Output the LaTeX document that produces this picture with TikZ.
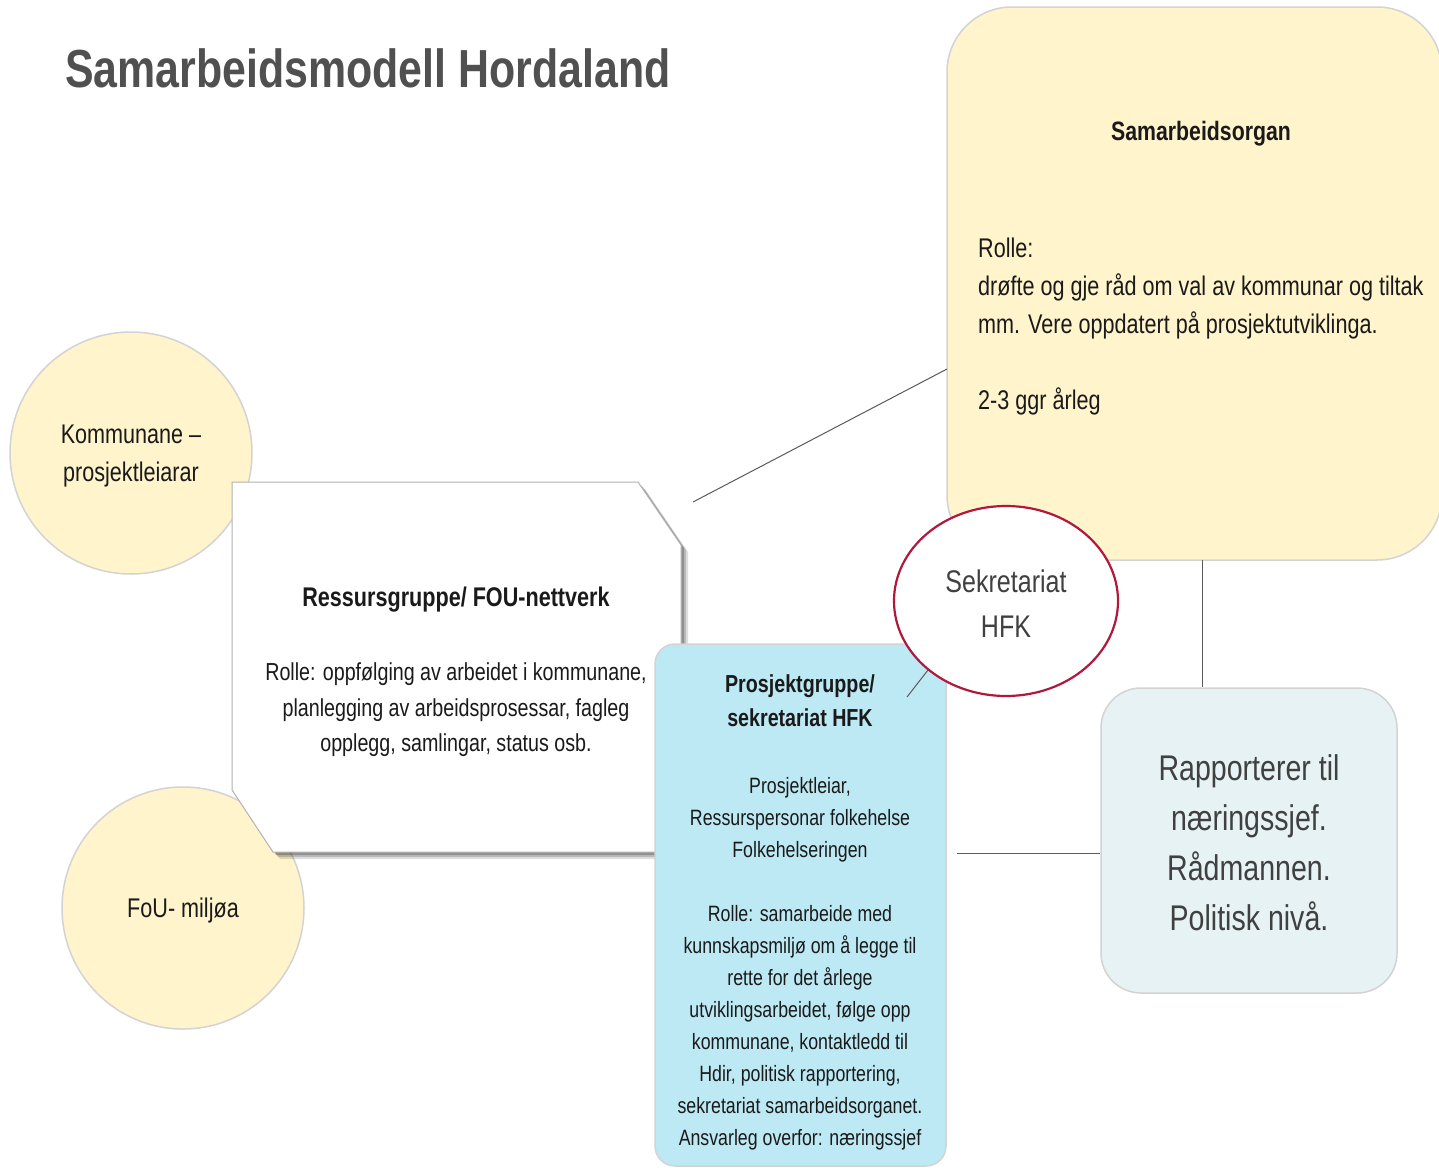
\documentclass[tikz,border=0pt]{standalone}
\usepackage{fontspec}
\setmainfont{Liberation Sans}[FakeStretch=0.8]
\usetikzlibrary{shapes.geometric}
\definecolor{yel}{HTML}{FFF4CC}
\definecolor{cyanbox}{HTML}{BDE9F4}
\definecolor{palebox}{HTML}{E6F2F4}
\definecolor{edgegray}{HTML}{D3D3D3}
\definecolor{txtgray}{HTML}{404040}
\definecolor{titlegray}{HTML}{505050}
\definecolor{linegray}{HTML}{5A5A5A}
\definecolor{crimson}{HTML}{B0183C}
\definecolor{txtdark}{HTML}{1A1A1A}
\newcommand{\myfs}[2]{\fontsize{#1}{#2}\selectfont}
\begin{document}
\begin{tikzpicture}[x=1pt,y=-1pt,
  yellowcircle/.style={circle, fill=yel, draw=edgegray, line width=1.5pt, inner sep=0pt,
     minimum size=242pt},
  roundbox/.style={draw=edgegray, line width=1.5pt, inner sep=0pt},
  conn/.style={draw=linegray, line width=1pt},
  bodytext/.style={text=txtdark, inner sep=0pt, align=center},
]
\useasboundingbox[fill=white] (0,0) rectangle (1439,1167);

% title
\node[anchor=base west, inner sep=0pt, text=titlegray, font=\bfseries\myfs{53.6}{60}] (title) at (65,87) {Samarbeidsmodell Hordaland};

% circles
\node[yellowcircle] (komm) at (131,453) {};
\node[yellowcircle] (fou) at (183,908) {};
\node[bodytext, font=\myfs{27}{38}] (kommtext) at (131,456) {Kommunane –\\prosjektleiarar};
\node[bodytext, font=\myfs{27}{38}] (foutext) at (183,911) {FoU- miljøa};

% Ressursgruppe snipped box
\coordinate (ra) at (232,482);
\coordinate (rb) at (638,482);
\coordinate (rc) at (681,545);
\coordinate (rd) at (681,852);
\coordinate (re) at (273,852);
\coordinate (rf) at (232,790);
\foreach \o/\op in {7/0.12, 5/0.16, 3/0.22} {
  \fill[black, opacity=\op] ([shift={(\o,\o)}]ra) -- ([shift={(\o,\o)}]rb) -- ([shift={(\o,\o)}]rc)
     -- ([shift={(\o,\o)}]rd) -- ([shift={(\o,\o)}]re) -- ([shift={(\o,\o)}]rf) -- cycle;
}
\filldraw[fill=white, draw=gray!60, line width=1pt] (ra) -- (rb) -- (rc) -- (rd) -- (re) -- (rf) -- cycle;

% Samarbeidsorgan box
\node[roundbox, fill=yel, rounded corners=65pt, minimum width=495pt, minimum height=553pt] (sorg) at (1194.5,283.5) {};

% connectors
\coordinate (link1) at (693,502);
\coordinate (link1b) at (947,369);
\draw[conn] (link1) -- (link1b);
\coordinate (v1) at (1202,560);

% Rapporterer box
\node[roundbox, fill=palebox, rounded corners=40pt, minimum width=296pt, minimum height=305pt] (rap) at (1249,840.5) {};
\node[inner sep=0pt, text=txtgray, align=center, font=\myfs{35.7}{50}] (raptext) at (1249,843)
      {Rapporterer til\\næringssjef.\\Rådmannen.\\Politisk nivå.};
\draw[conn] (v1) -- (v1 |- rap.north);
\coordinate (h1) at (957,853);
\draw[conn] (h1) -- (h1 -| rap.west);

% Prosjektgruppe box
\node[roundbox, fill=cyanbox, rounded corners=20pt, minimum width=291pt, minimum height=522pt] (proj) at (800.5,905) {};

% Sekretariat ellipse
\node[ellipse, draw=crimson, line width=2.2pt, fill=white, minimum width=224pt, minimum height=190pt,
      inner sep=0pt] (sek) at (1006,601) {};
\node[inner sep=0pt, text=txtgray, align=center, font=\myfs{31.3}{45}] (sektext) at (1006,604) {Sekretariat\\HFK};
\coordinate (s1) at (907,697);
\coordinate (s2) at (928,670);
\draw[conn] (s1) -- (s2);

% texts
\node[bodytext, font=\bfseries\myfs{27}{34}] (rtitle) at (456,600) {Ressursgruppe/ FOU-nettverk};
\node[bodytext, font=\myfs{24.6}{35.5}] (rbody) at (456,710)
  {Rolle: oppfølging av arbeidet i kommunane,\\planlegging av arbeidsprosessar, fagleg\\opplegg, samlingar, status osb.};

\node[bodytext, font=\bfseries\myfs{26.6}{32}] (sorgtitle) at (1201,134) {Samarbeidsorgan};
\node[bodytext, align=left, anchor=west, font=\myfs{27}{38}] (sorgbody) at (978,327)
  {Rolle:\\drøfte og gje råd om val av kommunar og tiltak\\mm. Vere oppdatert på prosjektutviklinga.\\[38pt]2-3 ggr årleg};

\node[bodytext, font=\bfseries\myfs{24.6}{34}] (ptitle) at (800,701) {Prosjektgruppe/\\sekretariat HFK};
\node[bodytext, font=\myfs{22.2}{32}] (pbody) at (800,964)
  {Prosjektleiar,\\Ressurspersonar folkehelse\\Folkehelseringen\\[32pt]Rolle: samarbeide med\\kunnskapsmiljø om å legge til\\rette for det årlege\\utviklingsarbeidet, følge opp\\kommunane, kontaktledd til\\Hdir, politisk rapportering,\\sekretariat samarbeidsorganet.\\Ansvarleg overfor: næringssjef};
\end{tikzpicture}
\end{document}
